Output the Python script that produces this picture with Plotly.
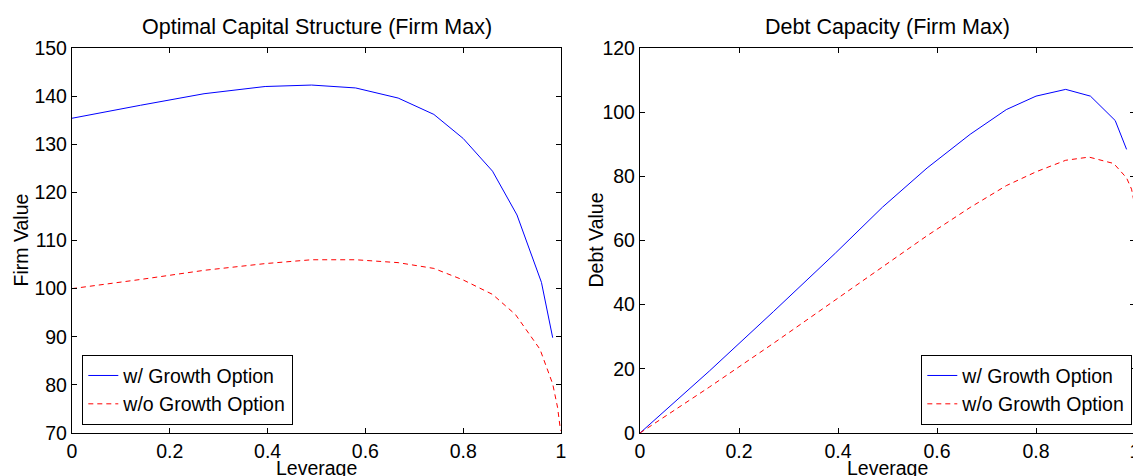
import plotly.graph_objects as go

# ---- data ----
lev_g = [0, 0.07, 0.14, 0.27, 0.395, 0.49, 0.58, 0.667, 0.74, 0.80, 0.86, 0.91, 0.96, 0.983]
firm_g = [135.4, 136.8, 138.1, 140.5, 142.0, 142.3, 141.7, 139.6, 136.2, 131.2, 124.4, 115.3, 101.3, 89.8]
debt_g = [0, 9.6, 19.3, 37.9, 56.1, 70.4, 82.6, 93.1, 100.8, 105.0, 107.1, 105.0, 97.4, 88.4]

lev_n = [0, 0.07, 0.14, 0.27, 0.395, 0.49, 0.58, 0.667, 0.74, 0.80, 0.86, 0.907, 0.957, 0.983, 0.993, 0.999]
firm_n = [100.0, 100.9, 101.9, 103.8, 105.2, 106.0, 106.0, 105.4, 104.2, 101.8, 98.8, 94.6, 87.4, 80.2, 75.3, 70.5]
debt_n = [0, 7.1, 14.3, 28.0, 41.6, 51.9, 61.5, 70.3, 77.1, 81.4, 85.0, 86.0, 84.0, 79.5, 76.0, 71.3]

x_ticks = [0, 0.2, 0.4, 0.6, 0.8, 1]
x_ticktext = ["0", "0.2", "0.4", "0.6", "0.8", "1"]
name_g = "w/ Growth Option"
name_n = "w/o Growth Option"
titles = ["Optimal Capital Structure (Firm Max)", "Debt Capacity (Firm Max)"]
y_titles = ["Firm Value", "Debt Value"]
x_title = "Leverage"

FONT = "Liberation Sans, Arial, Helvetica, sans-serif"
BLUE = "#0000ff"
RED = "#ff0000"
DASH = "5px,4px"
FS = 19.5
FT = 21.5

fig = go.Figure()
fig.add_trace(go.Scatter(x=lev_g, y=firm_g, mode="lines", name=name_g,
                         line=dict(color=BLUE, width=1), xaxis="x", yaxis="y", legend="legend"))
fig.add_trace(go.Scatter(x=lev_n, y=firm_n, mode="lines", name=name_n,
                         line=dict(color=RED, width=1, dash=DASH), xaxis="x", yaxis="y", legend="legend"))
fig.add_trace(go.Scatter(x=lev_g, y=debt_g, mode="lines", name=name_g,
                         line=dict(color=BLUE, width=1), xaxis="x2", yaxis="y2", legend="legend2"))
fig.add_trace(go.Scatter(x=lev_n, y=debt_n, mode="lines", name=name_n,
                         line=dict(color=RED, width=1, dash=DASH), xaxis="x2", yaxis="y2", legend="legend2"))

# page body has an 8px margin: everything is laid out 8px up/left of the reference
OFF = 8
W, H = 1141 - OFF, 476 - OFF
L = 72 - OFF
T = 48 - OFF
R = W - (1135 - OFF)
B = H - (433 - OFF)
pw = W - L - R
ph = H - T - B


def px_x(xr):
    return (xr - OFF - L) / pw


def px_y(yr):
    return (H - B - (yr - OFF)) / ph


d1 = [0, px_x(561)]
d2 = [px_x(640), 1]

axis_common = dict(showline=True, linecolor="black", linewidth=1.3, mirror="ticks",
                   ticks="inside", ticklen=5, tickcolor="black", showgrid=False,
                   zeroline=False, tickfont=dict(family=FONT, size=FS, color="black"),
                   automargin=False)

leg_common = dict(bordercolor="black", borderwidth=1.3, bgcolor="white",
                  font=dict(family=FONT, size=FS, color="black"), tracegroupgap=0, itemwidth=30,
                  yanchor="bottom", y=px_y(425))

fig.update_layout(
    width=W, height=H,
    margin=dict(l=L, r=R, t=T, b=B),
    paper_bgcolor="white", plot_bgcolor="white",
    font=dict(family=FONT, color="black"),
    xaxis=dict(domain=d1, range=[0, 1], tickvals=x_ticks, ticktext=x_ticktext, anchor="y", **axis_common),
    yaxis=dict(domain=[0, 1], range=[70, 150], dtick=10, tick0=70, anchor="x", **axis_common),
    xaxis2=dict(domain=d2, range=[0, 1], tickvals=x_ticks, ticktext=x_ticktext, anchor="y2", **axis_common),
    yaxis2=dict(domain=[0, 1], range=[0, 120], dtick=20, tick0=0, anchor="x2", **axis_common),
    legend=dict(x=px_x(82), xanchor="left", **leg_common),
    legend2=dict(x=px_x(1132), xanchor="right", **leg_common),
    showlegend=True,
)

centers = [(d1[0] + d1[1]) / 2, (d2[0] + d2[1]) / 2]
for i in range(2):
    fig.add_annotation(text=titles[i], xref="paper", yref="paper", x=centers[i],
                       y=px_y(27), xanchor="center", yanchor="middle", showarrow=False,
                       font=dict(family=FONT, size=FT, color="black"))
    fig.add_annotation(text=x_title, xref="paper", yref="paper", x=centers[i],
                       y=px_y(468), xanchor="center", yanchor="middle", showarrow=False,
                       font=dict(family=FONT, size=FS, color="black"))
fig.add_annotation(text=y_titles[0], xref="paper", yref="paper", x=px_x(20), y=0.5,
                   xanchor="center", yanchor="middle", textangle=-90, showarrow=False,
                   font=dict(family=FONT, size=FS, color="black"))
fig.add_annotation(text=y_titles[1], xref="paper", yref="paper", x=px_x(595), y=0.5,
                   xanchor="center", yanchor="middle", textangle=-90, showarrow=False,
                   font=dict(family=FONT, size=FS, color="black"))

fig.write_html("out.html")
